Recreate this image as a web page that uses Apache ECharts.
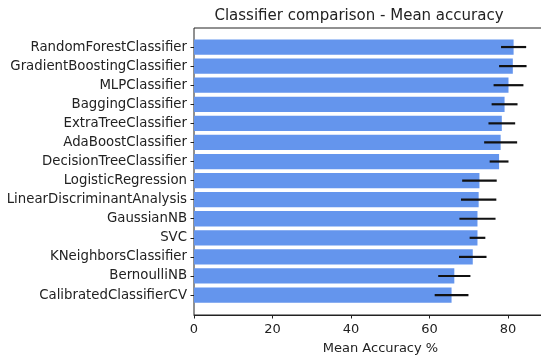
<!DOCTYPE html>
<html>
<head>
<meta charset="utf-8">
<script src="https://cdn.jsdelivr.net/npm/echarts@6/dist/echarts.min.js"></script>
<style>
  html, body { margin: 0; padding: 0; background: #fff; }
  #chart { width: 541px; height: 359px; }
</style>
</head>
<body>
<div id="chart"></div>
<script>
// Classifiers, listed top to bottom
const classifiers = [
  'RandomForestClassifier', 'GradientBoostingClassifier', 'MLPClassifier',
  'BaggingClassifier', 'ExtraTreeClassifier', 'AdaBoostClassifier',
  'DecisionTreeClassifier', 'LogisticRegression', 'LinearDiscriminantAnalysis',
  'GaussianNB', 'SVC', 'KNeighborsClassifier', 'BernoulliNB', 'CalibratedClassifierCV'
];
// Mean cross-validation accuracy (%)
const meanAccuracy = [81.4, 81.2, 80.1, 79.1, 78.4, 78.1, 77.7, 72.7, 72.5, 72.2, 72.2, 71.0, 66.3, 65.6];
// Standard deviation of accuracy (%)
const stdAccuracy  = [3.2, 3.5, 3.8, 3.3, 3.4, 4.2, 2.4, 4.4, 4.5, 4.6, 2.0, 3.5, 4.1, 4.3];
const xTicks = [0, 20, 40, 60, 80];

const errorData = classifiers.map((c, i) => [meanAccuracy[i] - stdAccuracy[i], meanAccuracy[i] + stdAccuracy[i], i]);

const font = 'DejaVu Sans';
const textColor = '#222';
// plot area runs past the right edge of the canvas
const plotLeft = 194, plotRight = -26, xMax = 95;

const chart = echarts.init(document.getElementById('chart'), null, { renderer: 'canvas' });
chart.setOption({
  animation: false,
  backgroundColor: '#fff',
  title: {
    text: 'Classifier comparison - Mean accuracy',
    left: 354, top: 4, textAlign: 'center',
    textStyle: { fontFamily: font, fontSize: 15, fontWeight: 'normal', color: textColor }
  },
  grid: [
    { left: plotLeft, right: plotRight, top: 37.5, bottom: 359 - 304.6,
      outerBoundsMode: 'none', containLabel: false },
    { left: plotLeft, right: plotRight, top: 28, bottom: 359 - 315, show: true,
      outerBoundsMode: 'none', containLabel: false,
      borderColor: '#222', borderWidth: 1, backgroundColor: 'transparent' }
  ],
  xAxis: [
    { gridIndex: 0, type: 'value', min: 0, max: xMax, show: false },
    { gridIndex: 1, type: 'value', min: 0, max: xMax, interval: 20,
      name: 'Mean Accuracy %', nameLocation: 'middle', nameGap: 27,
      nameTextStyle: { fontFamily: font, fontSize: 13, color: textColor },
      axisLine: { show: true, onZero: false, lineStyle: { color: '#222', width: 1 } },
      axisTick: { show: true, length: 3.5, lineStyle: { color: '#222' } },
      axisLabel: { fontFamily: font, fontSize: 13, color: textColor, margin: 8, showMaxLabel: false,
        formatter: v => xTicks.includes(v) ? String(v) : '' },
      splitLine: { show: false } }
  ],
  yAxis: [
    { gridIndex: 0, type: 'category', data: classifiers, inverse: true,
      axisLine: { show: false },
      axisTick: { show: true, alignWithLabel: true, length: 3.5, lineStyle: { color: '#222' } },
      axisLabel: { fontFamily: font, fontSize: 13.3, color: textColor, margin: 7 } },
    { gridIndex: 1, type: 'value', min: 0, max: 1, show: false }
  ],
  series: [
    {
      type: 'bar', xAxisIndex: 0, yAxisIndex: 0,
      data: meanAccuracy, barCategoryGap: '20%',
      itemStyle: { color: '#6495ED' }
    },
    {
      type: 'custom', xAxisIndex: 0, yAxisIndex: 0,
      data: errorData,
      encode: { x: [0, 1], y: 2 },
      z: 5,
      renderItem: function (params, api) {
        const p1 = api.coord([api.value(0), api.value(2)]);
        const p2 = api.coord([api.value(1), api.value(2)]);
        return {
          type: 'line',
          shape: { x1: p1[0], y1: p1[1], x2: p2[0], y2: p2[1] },
          style: { stroke: '#111', lineWidth: 2.2 }
        };
      }
    }
  ]
});
</script>
</body>
</html>
